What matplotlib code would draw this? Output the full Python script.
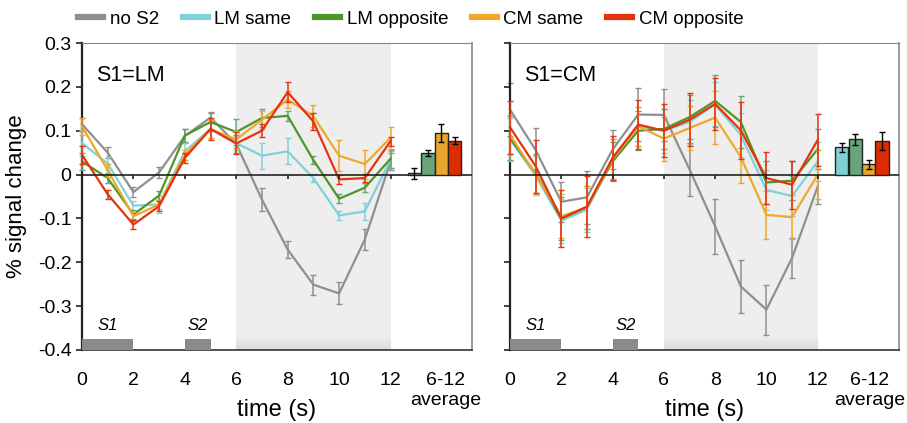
import numpy as np
import matplotlib.pyplot as plt
from matplotlib.lines import Line2D

plt.rcParams['font.family'] = ['Liberation Sans', 'DejaVu Sans']

t = np.arange(0, 13)
names = ['no S2', 'LM same', 'LM opposite', 'CM same', 'CM opposite']
line_colors = ['#8f8f8f', '#7fd3d8', '#4e9628', '#f0a82a', '#e4330f']
err_colors = ['#8f8f8f', '#7fd3d8', '#6aa57c', '#f0a82a', '#e4330f']
bar_colors = ['#8f8f8f', '#7fd1d4', '#68a57a', '#eaa62c', '#de2c00']

# S1 = LM
lm_mean = [
    [0.115, 0.05, -0.04, 0.005, 0.088, 0.13, 0.07, -0.057, -0.171, -0.251, -0.271, -0.148, 0.03],
    [0.072, 0.025, -0.071, -0.068, 0.053, 0.104, 0.072, 0.043, 0.053, -0.008, -0.093, -0.084, 0.034],
    [0.03, -0.008, -0.091, -0.048, 0.089, 0.12, 0.097, 0.129, 0.134, 0.033, -0.055, -0.03, 0.036],
    [0.11, 0.01, -0.095, -0.068, 0.045, 0.104, 0.08, 0.125, 0.171, 0.133, 0.043, 0.024, 0.084],
    [0.045, -0.045, -0.114, -0.072, 0.038, 0.104, 0.071, 0.1, 0.188, 0.121, -0.011, -0.008, 0.076],
]
lm_err = [
    [0.015, 0.012, 0.012, 0.012, 0.015, 0.012, 0.02, 0.026, 0.02, 0.023, 0.025, 0.025, 0.02],
    [0.03, 0.015, 0.01, 0.02, 0.02, 0.02, 0.015, 0.03, 0.03, 0.01, 0.01, 0.02, 0.02],
    [0.02, 0.012, 0.01, 0.01, 0.015, 0.02, 0.03, 0.02, 0.012, 0.01, 0.01, 0.01, 0.02],
    [0.02, 0.015, 0.01, 0.01, 0.012, 0.02, 0.02, 0.02, 0.02, 0.025, 0.035, 0.033, 0.025],
    [0.02, 0.01, 0.01, 0.012, 0.012, 0.025, 0.025, 0.015, 0.022, 0.02, 0.01, 0.01, 0.01],
]

# S1 = CM
cm_mean = [
    [0.148, 0.056, -0.062, -0.052, 0.057, 0.137, 0.136, 0.012, -0.118, -0.255, -0.308, -0.19, -0.027],
    [0.08, -0.002, -0.105, -0.08, 0.035, 0.11, 0.1, 0.12, 0.16, 0.09, -0.035, -0.049, 0.03],
    [0.083, 0.003, -0.1, -0.075, 0.03, 0.1, 0.104, 0.131, 0.168, 0.12, -0.018, -0.014, 0.058],
    [0.091, 0.0, -0.095, -0.075, 0.035, 0.11, 0.082, 0.106, 0.13, 0.04, -0.092, -0.097, 0.0],
    [0.108, 0.019, -0.1, -0.073, 0.038, 0.114, 0.1, 0.125, 0.161, 0.101, -0.008, -0.023, 0.079],
]
cm_err = [
    [0.06, 0.05, 0.045, 0.06, 0.045, 0.06, 0.06, 0.06, 0.063, 0.06, 0.057, 0.045, 0.04],
    [0.05, 0.045, 0.05, 0.05, 0.045, 0.045, 0.05, 0.05, 0.05, 0.05, 0.045, 0.045, 0.045],
    [0.05, 0.045, 0.05, 0.05, 0.045, 0.045, 0.045, 0.05, 0.06, 0.06, 0.05, 0.045, 0.045],
    [0.045, 0.045, 0.05, 0.05, 0.045, 0.045, 0.05, 0.05, 0.06, 0.06, 0.055, 0.05, 0.055],
    [0.06, 0.06, 0.065, 0.07, 0.05, 0.055, 0.06, 0.06, 0.06, 0.065, 0.06, 0.055, 0.06],
]

# 6-12 s averages (series index, mean, error)
lm_bar_idx = [0, 2, 3, 4]
lm_bar_mean = [0.003, 0.049, 0.095, 0.077]
lm_bar_err = [0.012, 0.006, 0.02, 0.008]
cm_bar_idx = [1, 2, 3, 4]
cm_bar_mean = [0.062, 0.08, 0.023, 0.077]
cm_bar_err = [0.01, 0.013, 0.01, 0.02]
bar_x = [12.93, 13.46, 13.98, 14.5]

fig = plt.figure(figsize=(9.07, 4.23), dpi=100)
ax1 = fig.add_axes([0.0904, 0.1726, 0.430, 0.7257])
ax2 = fig.add_axes([0.5623, 0.1726, 0.4289, 0.7257])


def draw_panel(ax, means, errs, bidx, bmean, berr, title, avg_x, show_labels):
    ax.axvspan(6, 12, color='#eeeeee', zorder=0, lw=0)
    # slight shadow at the bottom of the shaded window
    for j, c in enumerate(['#e8e8e8', '#e3e3e3', '#dedede']):
        ax.axvspan(6, 12, ymin=0, ymax=0.04 - 0.012 * j, color=c, zorder=0, lw=0)
    for i in range(5):
        ax.errorbar(t, means[i], yerr=errs[i], color=line_colors[i], ecolor=err_colors[i],
                    lw=1.6, elinewidth=1.1, capsize=2.5, capthick=1.0, zorder=2 + i, clip_on=False)
    for k in range(4):
        ax.bar(bar_x[k], bmean[k], width=0.52, color=bar_colors[bidx[k]],
               edgecolor='#222222', lw=1.0, zorder=8)
        ax.errorbar(bar_x[k], bmean[k], yerr=berr[k], color='black', elinewidth=1.0,
                    capsize=2, capthick=1.0, zorder=9)
    ax.axhline(0, color='#222222', lw=1.2, zorder=7)
    ax.vlines(np.arange(2, 13, 2), -0.011, 0, color='#222222', lw=1.2, zorder=7)
    # stimulus bars
    ax.bar(1, 0.024, bottom=-0.4, width=2, color='#8a8a8a', zorder=3)
    ax.bar(4.5, 0.024, bottom=-0.4, width=1, color='#8a8a8a', zorder=3)
    ax.text(1, -0.362, 'S1', style='italic', fontsize=12, ha='center', va='bottom')
    ax.text(4.5, -0.362, 'S2', style='italic', fontsize=12, ha='center', va='bottom')
    ax.text(0.55, 0.225, title, fontsize=15.5, ha='left', va='center')

    ax.set_xlim(0, 15.17)
    ax.set_ylim(-0.4, 0.3)
    ax.set_yticks(np.arange(-0.4, 0.31, 0.1))
    if show_labels:
        ax.set_yticklabels(['-0.4', '-0.3', '-0.2', '-0.1', '0', '0.1', '0.2', '0.3'])
    else:
        ax.set_yticklabels([])
    ax.set_xticks(list(range(0, 13, 2)) + [avg_x])
    ax.set_xticklabels([str(v) for v in range(0, 13, 2)] + ['6-12\naverage'])
    ax.tick_params(axis='x', length=0, pad=16, labelsize=14)
    ax.tick_params(axis='y', length=4, width=1.2, direction='out', labelsize=14, color='#222222')
    ax.spines['left'].set_color('#222222')
    ax.spines['left'].set_linewidth(1.6)
    ax.spines['bottom'].set_color('#333333')
    ax.spines['bottom'].set_linewidth(1.2)
    ax.spines['top'].set_color('#888888')
    ax.spines['top'].set_linewidth(0.8)
    ax.spines['right'].set_color('#888888')
    ax.spines['right'].set_linewidth(1.2)
    ax.set_xlabel('time (s)', fontsize=17, labelpad=-7)


draw_panel(ax1, lm_mean, lm_err, lm_bar_idx, lm_bar_mean, lm_bar_err, 'S1=LM', 14.16, True)
draw_panel(ax2, cm_mean, cm_err, cm_bar_idx, cm_bar_mean, cm_bar_err, 'S1=CM', 14.02, False)
ax1.set_ylabel('% signal change', fontsize=16, labelpad=8)

handles = [Line2D([0], [0], color=c, lw=4.5) for c in line_colors]
fig.legend(handles, names, loc='center left', bbox_to_anchor=(0.086, 0.955), ncol=5,
           frameon=False, fontsize=13.5, handlelength=1.35, handletextpad=0.35,
           columnspacing=1.25, borderaxespad=0, borderpad=0)

fig.savefig('out.png', dpi=100)
